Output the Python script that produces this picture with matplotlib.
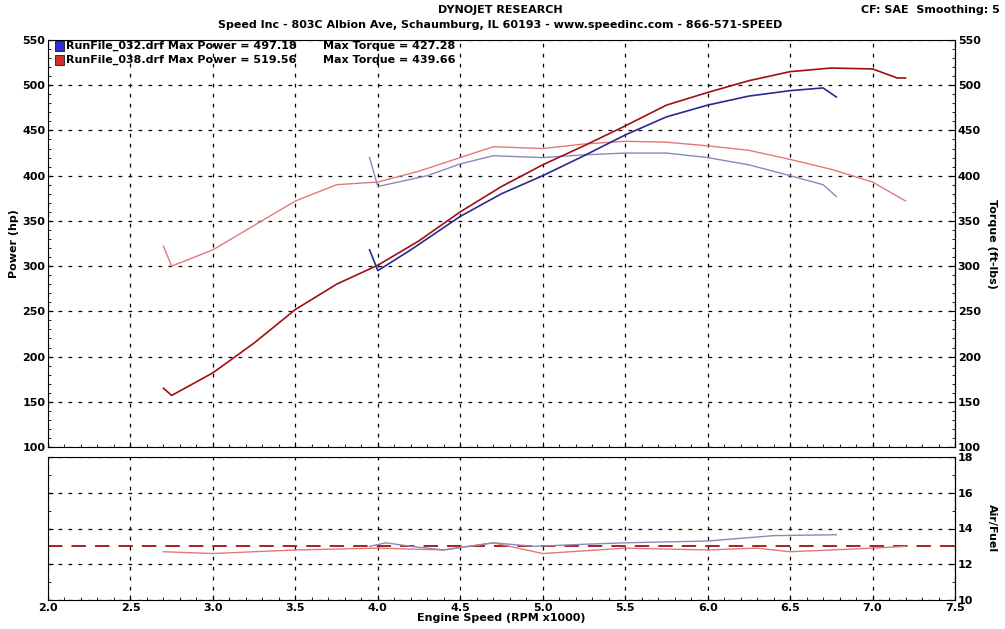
import matplotlib
matplotlib.use("Agg")
import matplotlib.pyplot as plt
import numpy as np

# Power (hp)
rpm_b_p = [3.95, 4.0, 4.2, 4.5, 4.75, 5.0, 5.25, 5.5, 5.75, 6.0, 6.25, 6.5, 6.7, 6.78]
pow_b = [318, 295, 318, 355, 380, 400, 422, 445, 465, 478, 488, 494, 497, 487]
rpm_r_p = [2.7, 2.75, 3.0, 3.25, 3.5, 3.75, 4.0, 4.25, 4.5, 4.75, 5.0, 5.25, 5.5, 5.75, 6.0, 6.25, 6.5, 6.75, 7.0, 7.15, 7.2]
pow_r = [165, 157, 182, 215, 252, 280, 301, 328, 360, 388, 412, 433, 455, 478, 492, 505, 515, 519, 518, 508, 508]
# Torque (ft-lbs)
rpm_b_t = [3.95, 4.0, 4.1, 4.3, 4.5, 4.7, 5.0, 5.25, 5.5, 5.75, 6.0, 6.25, 6.5, 6.7, 6.78]
tq_b = [420, 388, 392, 400, 413, 422, 420, 423, 425, 425, 420, 412, 400, 390, 377]
rpm_r_t = [2.7, 2.75, 3.0, 3.25, 3.5, 3.75, 4.0, 4.25, 4.5, 4.7, 5.0, 5.25, 5.5, 5.75, 6.0, 6.25, 6.5, 6.75, 7.0, 7.2]
tq_r = [322, 300, 318, 345, 372, 390, 393, 405, 420, 432, 430, 435, 438, 437, 433, 428, 418, 407, 393, 372]
# Air/Fuel
rpm_b_a = [3.95, 4.05, 4.2, 4.4, 4.55, 4.7, 4.95, 5.2, 5.5, 6.0, 6.4, 6.78]
afr_b = [13.0, 13.2, 13.0, 12.8, 13.0, 13.2, 13.0, 13.1, 13.2, 13.3, 13.6, 13.65]
rpm_r_a = [2.7, 3.0, 3.5, 4.0, 4.4, 4.7, 5.0, 5.5, 6.0, 6.3, 6.5, 7.0, 7.2]
afr_r = [12.7, 12.6, 12.8, 12.9, 12.8, 13.2, 12.6, 12.9, 12.8, 12.9, 12.7, 12.9, 13.0]
afr_target = 13.0

B_DARK, B_LIGHT = "#2a2a90", "#8a8ab8"
R_DARK, R_LIGHT = "#a01010", "#e07a7a"

plt.rcParams['font.family'] = 'DejaVu Sans'
plt.rcParams['font.weight'] = 'bold'
FS = 8
fig = plt.figure(figsize=(10.05, 6.29), dpi=100)
W, H = 1005, 629
ax = fig.add_axes([48/W, 1-447/H, (955-48)/W, (447-40)/H])
ax2 = fig.add_axes([48/W, 1-600/H, (955-48)/W, (600-457)/H])

for a in (ax, ax2):
    a.set_xlim(2.0, 7.5)
    a.set_xticks(np.arange(2.0, 7.51, 0.5))
    a.set_xticks(np.arange(2.0, 7.51, 0.1), minor=True)
    a.grid(True, which='major', color='black', linestyle=(0, (3, 5)), linewidth=0.9)
    a.tick_params(labelsize=FS, direction='in', which='both', pad=2)

ax.set_ylim(100, 550)
ax.set_yticks(range(100, 551, 50))
ax.set_yticks(range(100, 551, 10), minor=True)
ax.tick_params(labelbottom=False, right=True, labelright=True, which='both')
ax.set_ylabel("Power (hp)", fontsize=FS, fontweight='bold', labelpad=2)
axr = ax.secondary_yaxis('right')
axr.set_yticks([])
axr.set_ylabel("Torque (ft-lbs)", fontsize=FS, fontweight='bold', rotation=270, labelpad=30)

ax.plot(rpm_r_t, tq_r, color=R_LIGHT, lw=1)
ax.plot(rpm_b_t, tq_b, color=B_LIGHT, lw=1)
ax.plot(rpm_r_p, pow_r, color=R_DARK, lw=1.2)
ax.plot(rpm_b_p, pow_b, color=B_DARK, lw=1.2)

ax2.set_ylim(10, 18)
ax2.set_yticks([10, 12, 14, 16, 18])
ax2.set_yticks(range(10, 19, 1), minor=True)
ax2.tick_params(labelleft=False, right=True, labelright=True, which='both')
ax2.set_xlabel("Engine Speed (RPM x1000)", fontsize=FS, fontweight='bold', labelpad=0)
ax2r = ax2.secondary_yaxis('right')
ax2r.set_yticks([])
ax2r.set_ylabel("Air/Fuel", fontsize=FS, fontweight='bold', rotation=270, labelpad=30)
ax2.axhline(afr_target, color=R_DARK, lw=1.3, linestyle=(0, (8, 5)))
ax2.plot(rpm_r_a, afr_r, color=R_LIGHT, lw=1)
ax2.plot(rpm_b_a, afr_b, color=B_LIGHT, lw=1)

fig.text(500/W, 1-10/H, "DYNOJET RESEARCH", ha='center', va='center', fontsize=FS)
fig.text(500/W, 1-25/H, "Speed Inc - 803C Albion Ave, Schaumburg, IL 60193 - www.speedinc.com - 866-571-SPEED",
         ha='center', va='center', fontsize=FS)
fig.text(1000/W, 1-10/H, "CF: SAE  Smoothing: 5", ha='right', va='center', fontsize=FS)

leg = [("RunFile_032.drf Max Power = 497.18", "Max Torque = 427.28", "#3030d0"),
       ("RunFile_038.drf Max Power = 519.56", "Max Torque = 439.66", "#d03030")]
for i, (t1, t2, c) in enumerate(leg):
    y = 1 - (46 + 14*i)/H
    fig.patches.append(plt.Rectangle((55/W, y-5/H), 9/W, 10/H, transform=fig.transFigure,
                                     facecolor=c, edgecolor='black', lw=0.5))
    fig.text(66/W, y, t1, va='center', fontsize=FS)
    fig.text(323/W, y, t2, va='center', fontsize=FS)

fig.savefig("out.png", dpi=100)
